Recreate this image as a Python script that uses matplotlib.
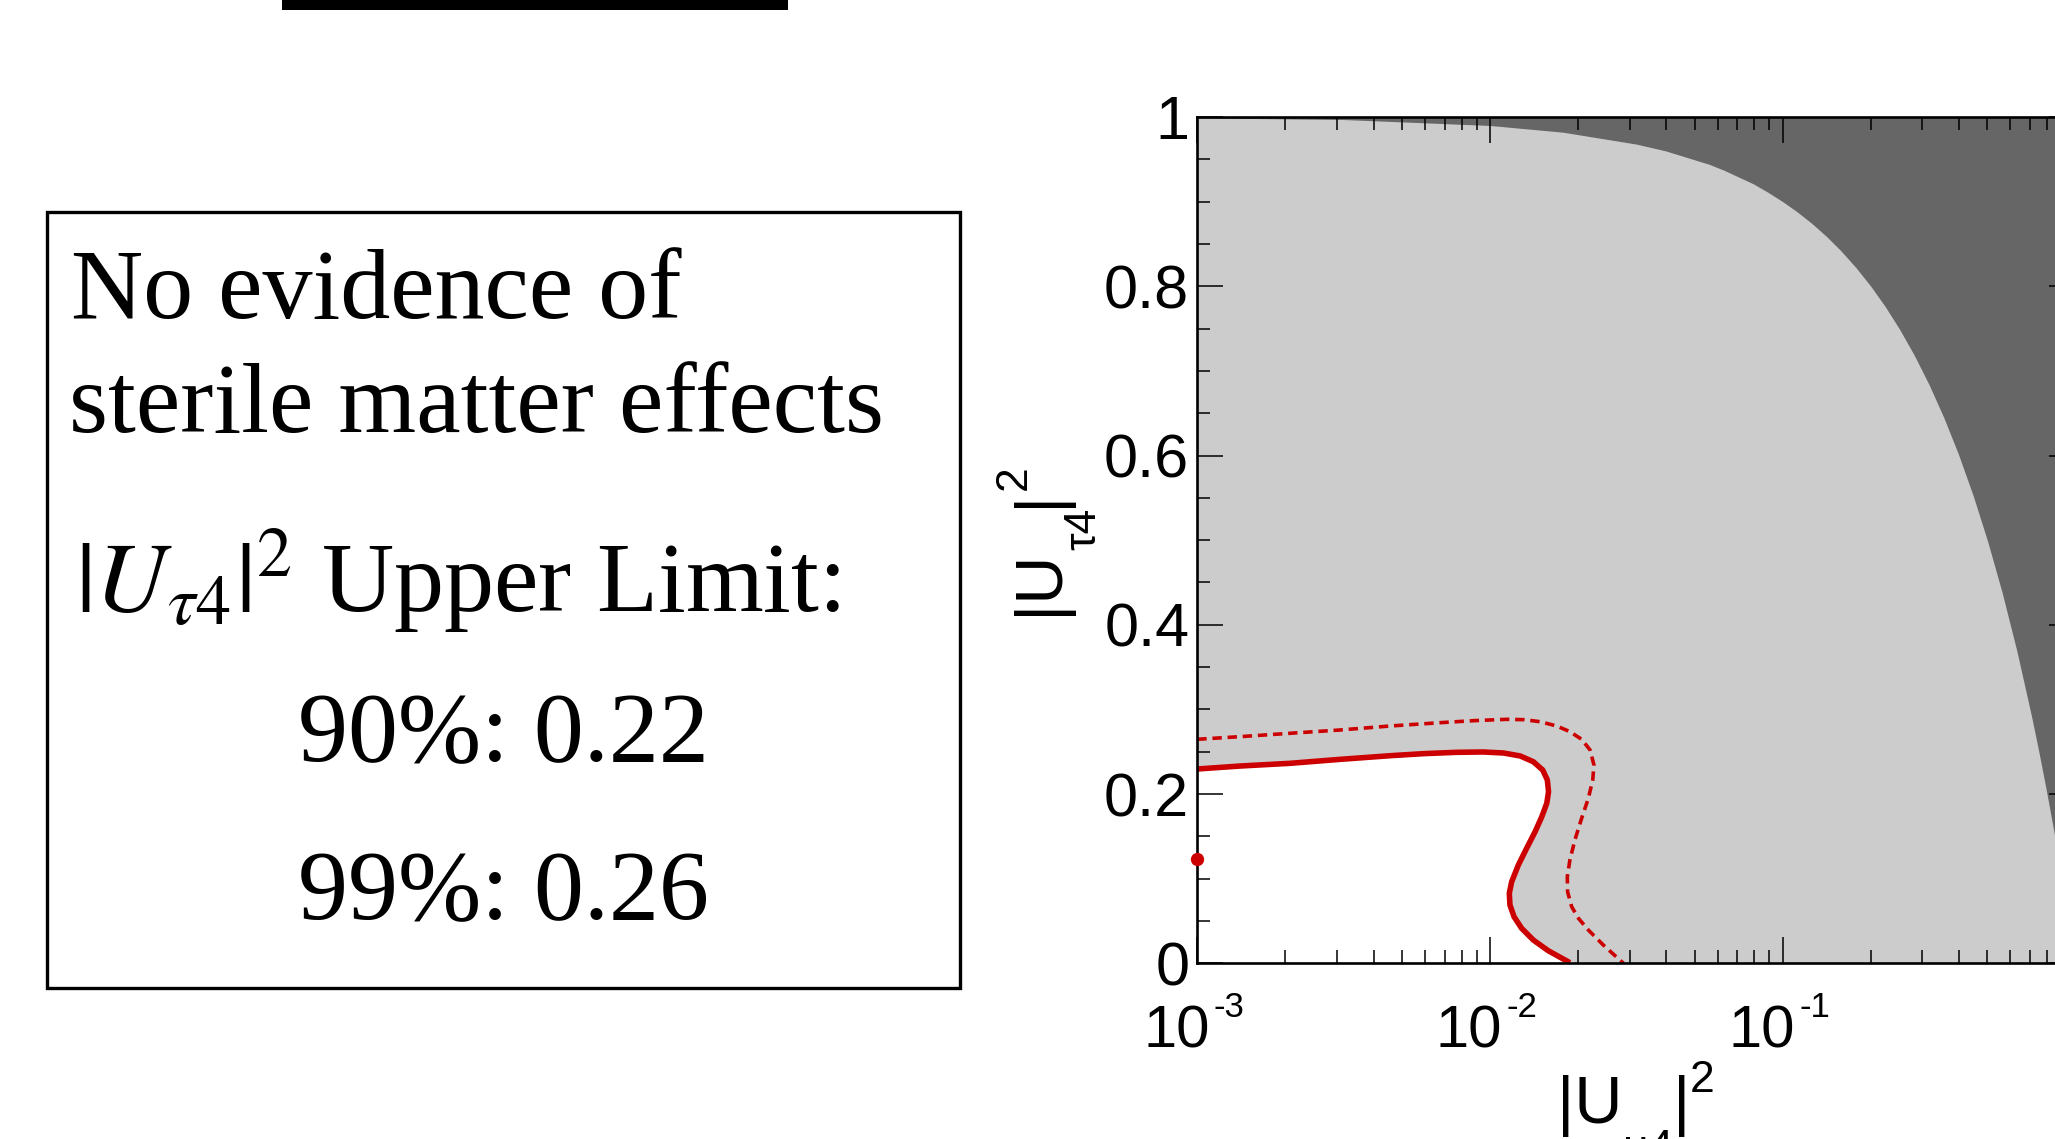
import matplotlib
matplotlib.use("Agg")
import matplotlib.pyplot as plt
import matplotlib.patches as patches
from matplotlib.ticker import FixedLocator, LogLocator, MultipleLocator, NullFormatter
from matplotlib.transforms import IdentityTransform

W, H = 2055, 1139

# upper edge of the allowed region (light grey below, dark grey above)
bound_x = [0.001, 0.00316, 0.01, 0.0178, 0.0316, 0.0398, 0.0562, 0.0631,
           0.0794, 0.0891, 0.1, 0.112, 0.126, 0.141, 0.158, 0.178, 0.2,
           0.224, 0.251, 0.282, 0.316, 0.355, 0.398, 0.447, 0.501, 0.562,
           0.631, 0.708, 0.75, 0.794, 0.841, 0.891, 0.944, 1.0]
bound_y = [0.999, 0.997, 0.99, 0.982, 0.968, 0.960, 0.944, 0.937,
           0.921, 0.911, 0.90, 0.888, 0.874, 0.859, 0.842, 0.822, 0.80,
           0.776, 0.749, 0.718, 0.684, 0.645, 0.602, 0.553, 0.499, 0.438,
           0.369, 0.292, 0.25, 0.206, 0.159, 0.109, 0.056, 0.0]

# 90% CL contour (solid)
cl90_x = [0.001, 0.0014, 0.002075, 0.003076, 0.00456, 0.005916, 0.007691,
          0.009484, 0.01112, 0.01268, 0.01406, 0.01514, 0.0157, 0.01585,
          0.01563, 0.01503, 0.01426, 0.01334, 0.0125, 0.01186, 0.01164,
          0.0117, 0.01208, 0.01282, 0.01406, 0.01581, 0.01875]
cl90_y = [0.2296, 0.2331, 0.2363, 0.2410, 0.2453, 0.2477, 0.2493, 0.2497,
          0.2485, 0.2450, 0.2382, 0.2284, 0.2166, 0.2028, 0.1891, 0.1732,
          0.1555, 0.1359, 0.1162, 0.0964, 0.0827, 0.0689, 0.0551, 0.0414,
          0.0275, 0.0149, 0.0007]

# 99% CL contour (dotted)
cl99_x = [0.001, 0.0014, 0.002075, 0.003076, 0.00456, 0.006745, 0.00877,
          0.0114, 0.013, 0.01483, 0.0169, 0.01875, 0.02056, 0.02198, 0.02265,
          0.02244, 0.02168, 0.02056, 0.0195, 0.01875, 0.01837, 0.01841,
          0.01901, 0.02005, 0.02168, 0.02438, 0.02858]
cl99_y = [0.2647, 0.2678, 0.2718, 0.2757, 0.2804, 0.2843, 0.2867, 0.2883,
          0.2879, 0.2855, 0.2804, 0.2737, 0.2647, 0.2520, 0.2343, 0.2166,
          0.1950, 0.1713, 0.1457, 0.1221, 0.1023, 0.0846, 0.0669, 0.0532,
          0.0393, 0.0216, 0.0]

best_fit_x = [0.001]
best_fit_y = [0.123]

y_ticks = [0, 0.2, 0.4, 0.6, 0.8, 1.0]
y_tick_labels = ["0", "0.2", "0.4", "0.6", "0.8", "1"]
x_decades = [-3, -2, -1]

# axis titles as pieces: base text, subscript, bar, superscript
x_label = ["|U", "μ4", "|", "2"]
y_label = ["|U", "τ4", "|", "2"]

box_lines = ["No evidence of", "sterile matter effects",
             r"$|U_{\tau4}|^2$ Upper Limit:", "90%: 0.22", "99%: 0.26"]

RED = "#cc0000"

plt.rcParams["font.family"] = ["Liberation Sans", "DejaVu Sans"]

fig = plt.figure(figsize=(W / 100, H / 100), dpi=100)
fig.patch.set_facecolor("white")
renderer = fig.canvas.get_renderer()

ax = fig.add_axes([1197.3 / W, 1 - 963.3 / H, 878.1 / W, 846.3 / H])
ax.set_xscale("log")
ax.set_xlim(1e-3, 1)
ax.set_ylim(0, 1)
ax.set_facecolor("#666666")

ax.fill_between(bound_x, 0, bound_y, color="#cccccc", lw=0)
ax.fill(cl90_x + [0.001], cl90_y + [0.0], color="white", lw=0)
ax.plot(cl99_x, cl99_y, color=RED, lw=2.6, linestyle=(0, (2.6, 1.6)))
ax.plot(cl90_x, cl90_y, color=RED, lw=4.0, solid_capstyle="butt")
ax.plot(best_fit_x, best_fit_y, "o", color=RED, ms=9.6, mew=0,
        clip_on=False, zorder=6)

for s in ax.spines.values():
    s.set_linewidth(1.9)

ax.yaxis.set_major_locator(FixedLocator(y_ticks))
ax.set_yticklabels(y_tick_labels)
ax.yaxis.set_minor_locator(MultipleLocator(0.05))
ax.xaxis.set_major_locator(LogLocator(base=10))
ax.xaxis.set_minor_locator(LogLocator(base=10, subs=range(2, 10)))
ax.xaxis.set_minor_formatter(NullFormatter())
ax.tick_params(which="both", direction="in", top=True, right=True,
               width=1.1, colors="black")
ax.tick_params(which="major", length=18.7)
ax.tick_params(which="minor", length=9.4)
ax.tick_params(axis="y", labelsize=44, pad=5.8)
ax.tick_params(axis="x", labelbottom=False)

for d in x_decades:
    ax.annotate("10", xy=(10.0 ** d, 0), xycoords=("data", "axes fraction"),
                xytext=(9, -60.3), textcoords="offset points", ha="right",
                va="baseline", fontsize=43, annotation_clip=False)
    ax.annotate(f"{d}", xy=(10.0 ** d, 0), xycoords=("data", "axes fraction"),
                xytext=(12, -38.7), textcoords="offset points", ha="left",
                va="baseline", fontsize=25, annotation_clip=False)


def draw_label(pieces, base, center, vertical):
    # pieces laid out one after another; sub- and superscript shifted in px
    sizes = [48, 32, 48, 32]
    shifts = [0, -38, 0, 31]
    widths = []
    for s, fs in zip(pieces, sizes):
        t = fig.text(0, 0, s, fontsize=fs, transform=IdentityTransform())
        widths.append(t.get_window_extent(renderer).width)
        t.remove()
    pos = center - sum(widths) / 2
    for s, fs, sh, w in zip(pieces, sizes, shifts, widths):
        if vertical:
            fig.text(base - sh, pos, s, fontsize=fs, rotation=90,
                     rotation_mode="anchor", ha="left", va="baseline",
                     transform=IdentityTransform())
        else:
            fig.text(pos, base + sh, s, fontsize=fs, ha="left",
                     va="baseline", transform=IdentityTransform())
        pos += w


draw_label(x_label, H - 1123, 1636, vertical=False)
draw_label(y_label, 1057, H - 540, vertical=True)

# text box on the left
fig.add_artist(patches.Rectangle((47 / W, 1 - 988 / H), 913 / W, 776 / H,
                                 transform=fig.transFigure, fill=False,
                                 edgecolor="black", lw=2.4))
serif = ["Liberation Serif", "DejaVu Serif"]
box_x = [71, 69, 75, 503, 503]
box_base = [318, 432, 612, 761, 919]
box_ha = ["left", "left", "left", "center", "center"]
for s, bx, by, ha in zip(box_lines, box_x, box_base, box_ha):
    fig.text(bx / W, 1 - by / H, s, family=serif, fontsize=72,
             va="baseline", ha=ha, math_fontfamily="stix")

# underline of the slide heading, cut by the top edge
fig.add_artist(patches.Rectangle((282 / W, 1 - 10 / H), 506 / W, 10 / H,
                                 transform=fig.transFigure, color="black",
                                 lw=0))

fig.savefig("out.png", dpi=100)
